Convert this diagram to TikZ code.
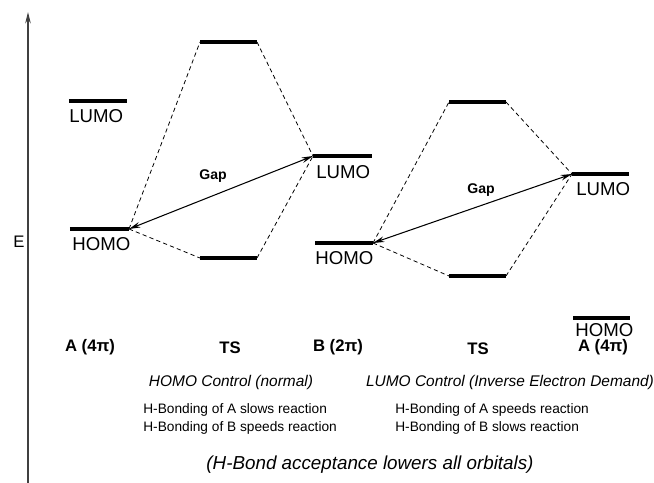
\documentclass[tikz,border=0pt]{standalone}
\usepackage{fontspec}
\setmainfont{Liberation Sans}
\usetikzlibrary{arrows.meta}

\begin{document}
\begin{tikzpicture}[x=0.02cm,y=-0.02cm,>={Stealth[length=6.5pt,width=3.2pt]},
  level/.style={line width=1.8pt},
  link/.style={dash pattern=on 2.4pt off 1.8pt,line width=0.45pt},
  gap arrow/.style={<->,line width=0.6pt},
  orb/.style={font=\fontsize{10.6}{12}\selectfont,inner sep=0pt,anchor=west},
  mol/.style={font=\fontsize{9.5}{11}\selectfont\bfseries,inner sep=0pt},
  note/.style={font=\fontsize{8.8}{10}\selectfont\itshape,inner sep=0pt},
  effect/.style={font=\fontsize{7.8}{10.2}\selectfont,inner sep=0pt,anchor=west,align=left}]

  \useasboundingbox (0,0) rectangle (654,483);

  % energy axis
  \coordinate (axis0) at (28,483);
  \coordinate (axis1) at (28,12);
  \draw[->,line width=0.6pt,black!75] (axis0) -- (axis1);
  \node[font=\fontsize{9.5}{11}\selectfont,inner sep=0pt] (E) at (19,242) {E};

  % levels, HOMO control
  \coordinate (aLa) at (69,101);  \coordinate (aLb) at (127,101);
  \coordinate (aHa) at (70,229);  \coordinate (aHb) at (129,229);
  \coordinate (tUa) at (200,42);  \coordinate (tUb) at (257,42);
  \coordinate (tLa) at (200,258); \coordinate (tLb) at (257,258);
  \coordinate (bLa) at (313,156); \coordinate (bLb) at (372,156);
  % levels, LUMO control
  \coordinate (bHa) at (315,243); \coordinate (bHb) at (373,243);
  \coordinate (sUa) at (449,102); \coordinate (sUb) at (506,102);
  \coordinate (sLa) at (449,276); \coordinate (sLb) at (506,276);
  \coordinate (cLa) at (572,174); \coordinate (cLb) at (629,174);
  \coordinate (cHa) at (573,318); \coordinate (cHb) at (630,318);

  \foreach \lv in {aL,aH,tU,tL,bL,bH,sU,sL,cL,cH}
    \draw[level] (\lv a) -- (\lv b);

  \node[orb] (aLUMO) at (69,116) {LUMO};
  \node[orb] (aHOMO) at (72,244) {HOMO};
  \node[orb] (bLUMO) at (316,172) {LUMO};
  \node[orb] (bHOMO) at (315,258) {HOMO};
  \node[orb] (cLUMO) at (576,189) {LUMO};
  \node[orb] (cHOMO) at (575,330) {HOMO};

  % correlation lines
  \draw[link] (aHb) -- (tUa) (aHb) -- (tLa) (tUb) -- (bLa) (tLb) -- (bLa);
  \draw[link] (bHb) -- (sUa) (bHb) -- (sLa) (sUb) -- (cLa) (sLb) -- (cLa);

  % gaps
  \draw[gap arrow] (aHb) -- (bLa);
  \draw[gap arrow] (bHb) -- (cLa);
  \node[font=\fontsize{8}{9}\selectfont\bfseries,inner sep=0pt] (gap1) at (213,176) {Gap};
  \node[font=\fontsize{8}{9}\selectfont\bfseries,inner sep=0pt] (gap2) at (481,190) {Gap};

  % species
  \node[mol] (A1) at (90,347) {A (4π)};
  \node[mol] (TS1) at (230,348) {TS};
  \node[mol] (B1) at (338,347) {B (2π)};
  \node[mol] (TS2) at (478,349) {TS};
  \node[mol] (A2) at (603,347) {A (4π)};

  \node[note] (ctl1) at (231,382) {HOMO Control (normal)};
  \node[note] (ctl2) at (510,382) {LUMO Control (Inverse Electron Demand)};

  \node[effect] (hb1) at (143,419) {H-Bonding of A slows reaction\\H-Bonding of B speeds reaction};
  \node[effect] (hb2) at (395,419) {H-Bonding of A speeds reaction\\H-Bonding of B slows reaction};

  \node[note,font=\fontsize{10.7}{12}\selectfont\itshape] (accept) at (370,465) {(H-Bond acceptance lowers all orbitals)};
\end{tikzpicture}
\end{document}
